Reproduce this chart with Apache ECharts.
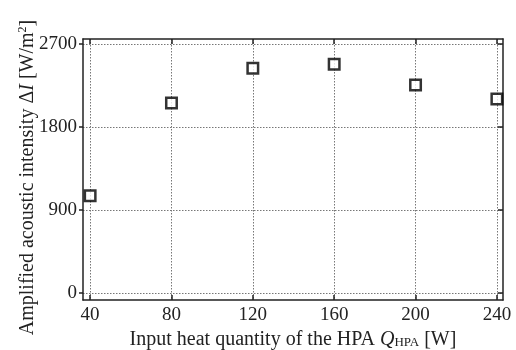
<!DOCTYPE html>
<html>
<head>
<meta charset="utf-8">
<script src="https://cdn.jsdelivr.net/npm/echarts@6/dist/echarts.min.js"></script>
<style>
  html, body { margin: 0; padding: 0; background: #fff; }
  #chart { width: 516px; height: 350px; }
</style>
</head>
<body>
<div id="chart"></div>
<script>
// heat input Q_HPA [W] and amplified acoustic intensity [W/m2]
const heatInput = [40, 80, 120, 160, 200, 240];
const intensity = [1055, 2060, 2436, 2480, 2255, 2103];
const xTicks = [40, 80, 120, 160, 200, 240];
const yTicks = [0, 900, 1800, 2700];

const font = '"Liberation Serif", "DejaVu Serif", serif';
const ink = '#222';

const chart = echarts.init(document.getElementById('chart'));

const dotted = { show: true, lineStyle: { color: '#777', type: [1.5, 1.5], width: 1 } };

chart.setOption({
  animation: false,
  backgroundColor: '#fff',
  grid: { left: 83, right: 13, top: 39, bottom: 50, show: false, outerBoundsMode: 'none', containLabel: false },
  xAxis: [
    {
      type: 'value', min: 36.5, max: 243, position: 'bottom',
      name: '{t|Input heat quantity of the HPA }{q|Q}{s|HPA}{t| [W]}',
      nameLocation: 'middle', nameGap: 30, nameMoveOverlap: false,
      nameTextStyle: {
        rich: {
          t: { fontFamily: font, fontSize: 20, color: ink },
          q: { fontFamily: font, fontSize: 20, color: ink, fontStyle: 'italic' },
          s: { fontFamily: font, fontSize: 13, color: ink, padding: [6, 0, 0, 0] }
        }
      },
      axisLine: { show: true, onZero: false, lineStyle: { color: ink, width: 1.5 } },
      axisTick: { show: true, inside: true, length: 5, customValues: xTicks, lineStyle: { color: ink, width: 1.5 } },
      axisLabel: { customValues: xTicks, margin: 6, fontFamily: font, fontSize: 19, color: ink },
      splitLine: dotted
    },
    {
      type: 'value', min: 36.5, max: 243, position: 'top',
      axisLine: { show: true, onZero: false, lineStyle: { color: ink, width: 1.5 } },
      axisTick: { show: true, inside: true, length: 5, customValues: xTicks, lineStyle: { color: ink, width: 1.5 } },
      axisLabel: { show: false },
      splitLine: { show: false }
    }
  ],
  yAxis: [
    {
      type: 'value', min: -76, max: 2754, position: 'left',
      name: '{t|Amplified acoustic intensity Δ}{i|I}{t| [W/m}{p|2}{t|]}',
      nameLocation: 'middle', nameGap: 45, nameMoveOverlap: false,
      nameTextStyle: {
        padding: [0, 16, 0, 0],
        rich: {
          t: { fontFamily: font, fontSize: 20, color: ink },
          i: { fontFamily: font, fontSize: 20, color: ink, fontStyle: 'italic' },
          p: { fontFamily: font, fontSize: 12, color: ink, padding: [0, 0, 9, 0] }
        }
      },
      axisLine: { show: true, onZero: false, lineStyle: { color: ink, width: 1.5 } },
      axisTick: { show: true, inside: false, length: 4, customValues: yTicks, lineStyle: { color: ink, width: 1.5 } },
      axisLabel: { customValues: yTicks, margin: 6, fontFamily: font, fontSize: 19, color: ink, formatter: (v) => String(v) },
      splitLine: dotted
    },
    {
      type: 'value', min: -76, max: 2754, position: 'right',
      axisLine: { show: true, onZero: false, lineStyle: { color: ink, width: 1.5 } },
      axisTick: { show: true, inside: true, length: 5, customValues: yTicks, lineStyle: { color: ink, width: 1.5 } },
      axisLabel: { show: false },
      splitLine: { show: false }
    }
  ],
  series: [{
    type: 'scatter',
    data: heatInput.map((q, i) => [q, intensity[i]]),
    symbol: 'rect',
    symbolSize: 10.5,
    itemStyle: { color: '#fff', borderColor: '#000', borderWidth: 2.5 }
  }]
});
</script>
</body>
</html>
